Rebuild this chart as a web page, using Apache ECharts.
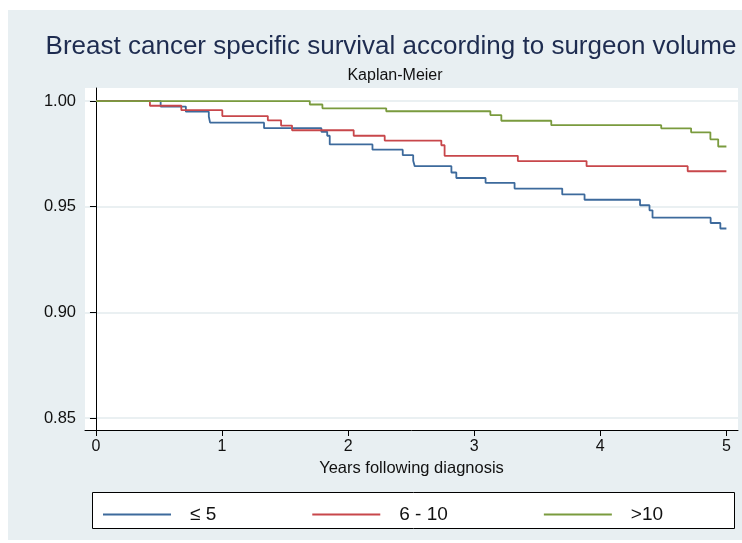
<!DOCTYPE html>
<html>
<head>
<meta charset="utf-8">
<title>Breast cancer specific survival</title>
<script src="https://cdn.jsdelivr.net/npm/echarts@6.0.0/dist/echarts.min.js"></script>
<style>
  html, body { margin: 0; padding: 0; background: #ffffff; }
  #chart { width: 742px; height: 543px; }
</style>
</head>
<body>
<div id="chart"></div>
<script>
// Kaplan-Meier estimates (years, survival)
const groupNames = ['≤ 5', '6 - 10', '>10']

const lowTimes = [0, 0.513, 0.713, 0.895, 0.905, 1.333, 1.788, 1.834, 1.854, 2.193, 2.433, 2.516, 2.528, 2.819, 2.858, 3.090, 3.320, 3.698, 3.875, 4.315, 4.390, 4.414, 4.875, 4.952, 5.0]
const lowSurv = [1, 0.9974, 0.9950, 0.9927, 0.9898, 0.9872, 0.9855, 0.9836, 0.9795, 0.9770, 0.9744, 0.9718, 0.9692, 0.9662, 0.9636, 0.9613, 0.9586, 0.9558, 0.9533, 0.9507, 0.9483, 0.9448, 0.9423, 0.9397, 0.9397]

const midTimes = [0, 0.428, 0.677, 1.002, 1.363, 1.468, 1.555, 2.044, 2.290, 2.739, 2.765, 3.346, 3.891, 4.693, 5.0]
const midSurv = [1, 0.9978, 0.9957, 0.9929, 0.9909, 0.9884, 0.9862, 0.9836, 0.9813, 0.9791, 0.9741, 0.9716, 0.9692, 0.9668, 0.9668]

const highTimes = [0, 1.696, 1.796, 2.302, 3.128, 3.215, 3.611, 4.483, 4.720, 4.873, 4.935, 5.0]
const highSurv = [1, 0.9984, 0.9966, 0.9952, 0.9934, 0.9907, 0.9886, 0.9871, 0.9852, 0.9819, 0.9785, 0.9785]

const xTicks = [0, 1, 2, 3, 4, 5]
const yTicks = [0.85, 0.90, 0.95, 1.00]

const colors = ['#3d6a9c', '#c8474b', '#7a9b3e']
const font = '"Liberation Sans", Arial, sans-serif'

const zip = (xs, ys) => xs.map((x, i) => [x, ys[i]])

const seriesData = [zip(lowTimes, lowSurv), zip(midTimes, midSurv), zip(highTimes, highSurv)]

const chart = echarts.init(document.getElementById('chart'))

const option = {
  backgroundColor: '#ffffff',
  animation: false,
  graphic: [
    {
      type: 'rect',
      z: -10,
      shape: { x: 8, y: 10, width: 734, height: 530 },
      style: { fill: '#e8eff2' }
    },
    {
      type: 'rect',
      z: 1,
      shape: { x: 92.5, y: 492.5, width: 642, height: 36 },
      style: { fill: '#ffffff', stroke: '#000000', lineWidth: 1 }
    }
  ],
  title: [
    {
      text: 'Breast cancer specific survival according to surgeon volume',
      left: 386,
      top: 29,
      textAlign: 'center',
      textStyle: { fontFamily: font, fontSize: 26, fontWeight: 'normal', color: '#1e2c50' }
    },
    {
      text: 'Kaplan-Meier',
      left: 390,
      top: 63,
      textAlign: 'center',
      textStyle: { fontFamily: font, fontSize: 16, fontWeight: 'normal', color: '#111111' }
    }
  ],
  grid: {
    left: 85,
    right: 4,
    top: 88,
    bottom: 113,
    show: true,
    backgroundColor: '#ffffff',
    borderWidth: 0
  },
  legend: {
    left: 98,
    top: 500,
    icon: 'rect',
    itemWidth: 68,
    itemHeight: 2,
    itemGap: 96,
    data: groupNames,
    textStyle: { fontFamily: font, fontSize: 19, color: '#111111', padding: [0, 0, 0, 14] }
  },
  xAxis: {
    type: 'value',
    min: -0.087,
    max: 5.092,
    name: 'Years following diagnosis',
    nameLocation: 'middle',
    nameGap: 28,
    nameTextStyle: { fontFamily: font, fontSize: 16.5, color: '#111111' },
    axisLine: { show: true, onZero: false, lineStyle: { color: '#000000', width: 1 } },
    axisTick: { show: true, inside: false, length: 6, customValues: xTicks, lineStyle: { color: '#000000' } },
    axisLabel: { customValues: xTicks, margin: 9, fontFamily: font, fontSize: 16, color: '#111111' },
    splitLine: { show: false }
  },
  yAxis: {
    type: 'value',
    min: 0.8443,
    max: 1.0062,
    axisLine: { show: true, lineStyle: { color: '#000000', width: 1 } },
    axisTick: { show: true, inside: false, length: 6, customValues: yTicks, lineStyle: { color: '#000000' } },
    axisLabel: {
      customValues: yTicks,
      margin: 9,
      fontFamily: font,
      fontSize: 16.5,
      color: '#111111',
      formatter: (v) => v.toFixed(2)
    },
    splitLine: { show: true, lineStyle: { color: '#e3ebee', width: 1.5 } }
  },
  series: seriesData.map((data, i) => ({
    name: groupNames[i],
    type: 'line',
    step: 'end',
    data: data,
    symbol: 'none',
    color: colors[i],
    lineStyle: { color: colors[i], width: 1.8 },
    z: 2 + i
  }))
}

chart.setOption(option)

window.addEventListener('resize', () => {
  chart.resize()
})
</script>
</body>
</html>
